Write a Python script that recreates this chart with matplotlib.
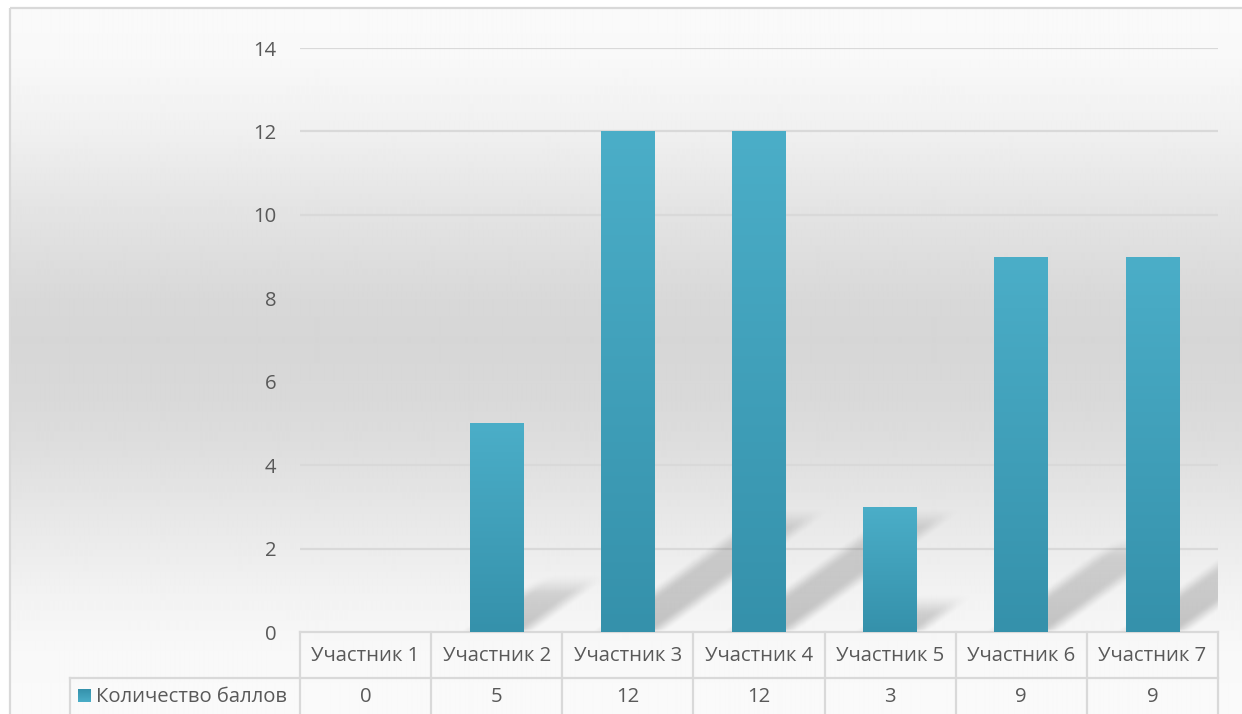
import numpy as np
import matplotlib
matplotlib.use('Agg')
import matplotlib.pyplot as plt
from matplotlib.colors import LinearSegmentedColormap, to_rgb
from matplotlib.patches import Rectangle

categories = ['Участник 1', 'Участник 2', 'Участник 3', 'Участник 4',
              'Участник 5', 'Участник 6', 'Участник 7']
values = [0, 5, 12, 12, 3, 9, 9]
series_name = 'Количество баллов'
y_ticks = [0, 2, 4, 6, 8, 10, 12, 14]

FONT = ['Open Sans', 'DejaVu Sans']
TXT = '#595959'
GRID = '#d9d9d9'
FS = 14.6

W, H = 1242, 714
fig = plt.figure(figsize=(W / 100, H / 100), dpi=100)
fig.patch.set_facecolor('white')

# ---- background panel with vertical gradient
bg = fig.add_axes([0, 0, 1, 1], zorder=0)
bg.set_xlim(0, W)
bg.set_ylim(H, 0)
bg.axis('off')
sy = [8, 60, 130, 200, 300, 340, 400, 450, 520, 600, 650, 714]
sv = [250, 248, 240, 229, 216, 214, 217, 222, 232, 243, 248, 250]
yy = np.arange(8, H)
col = np.interp(yy, sy, sv) / 255.0
img = np.repeat(col[:, None], 4, axis=1)
bg.imshow(img, cmap='gray', vmin=0, vmax=1, extent=(10, W + 2, H, 8),
          aspect='auto', origin='upper', interpolation='bilinear')
bg.add_patch(Rectangle((10, 8), W, H, fill=False, edgecolor='#d9d9d9', lw=1.6))
bg.set_xlim(0, W)
bg.set_ylim(H, 0)

# ---- main plot axes
L, R, T, B = 300, 1218, 48, 632
ax = fig.add_axes([L / W, 1 - B / H, (R - L) / W, (B - T) / H], zorder=2)
ax.patch.set_alpha(0)
xs = np.arange(len(categories))
XL = (-0.5, len(categories) - 0.5)
YL = (0, 14)

for t in y_ticks[1:]:
    ax.axhline(t, color=GRID, lw=1.6, zorder=1)

# ---- shadows (blurred parallelograms on the floor)
nx, ny = R - L, B - T
pxx = nx / (XL[1] - XL[0])
pxy = ny / (YL[1] - YL[0])
gx = XL[0] + (np.arange(nx) + 0.5) / pxx
gy = YL[1] - (np.arange(ny) + 0.5) / pxy
X, Y = np.meshgrid(gx, gy)
bw = 0.41
kx, ky = 0.100, 0.227
blur = 12.0
alpha = np.zeros_like(X)


def soft(d):
    s = np.clip((d + blur) / (2 * blur), 0, 1)
    return s * s * (3 - 2 * s)


for i, v in enumerate(values):
    if v <= 0:
        continue
    hs = ky * v
    t = Y / hs
    u = (X - (i - bw / 2) - kx * v * t) * pxx
    a = soft(u) * soft(bw * pxx - u) * soft((1 - t) * hs * pxy) * np.clip(Y * pxy / 3, 0, 1)
    a *= (1 - 0.4 * np.clip(t, 0, 1))
    alpha = np.maximum(alpha, a)
shadow = np.zeros((ny, nx, 4))
shadow[..., 3] = alpha * 0.21
ax.imshow(shadow, extent=(XL[0], XL[1], YL[0], YL[1]), aspect='auto',
          origin='upper', zorder=2, interpolation='bilinear')

# ---- bars with vertical gradient
teal = LinearSegmentedColormap.from_list('teal', ['#3591ab', '#4baec8'])
bars = ax.bar(xs, values, width=bw, color='none', edgecolor='none', zorder=3)
grad = np.linspace(1, 0, 256)[:, None]
for rect in bars:
    h = rect.get_height()
    if h <= 0:
        continue
    x0 = rect.get_x()
    im = ax.imshow(grad, cmap=teal, vmin=0, vmax=1, aspect='auto',
                   extent=(x0, x0 + rect.get_width(), 0, h), origin='upper',
                   zorder=3, interpolation='bilinear')
    im.set_clip_path(rect)

ax.set_xlim(*XL)
ax.set_ylim(*YL)
ax.set_yticks(y_ticks)
ax.set_yticklabels([str(t) for t in y_ticks], color=TXT, fontsize=FS, family=FONT)
ax.tick_params(axis='y', length=0, pad=17)
ax.set_xticks([])
for s in ax.spines.values():
    s.set_visible(False)

# ---- data table
fig.canvas.draw()
def px(xd):
    return ax.transData.transform((xd, 0))[0]

edges = [px(i - 0.5) for i in range(len(categories) + 1)]
row1, row2 = 632, 678
lk = dict(color=GRID, lw=1.6, zorder=3)
bg.plot([edges[0], edges[-1]], [row1, row1], **lk)
bg.plot([70, edges[-1]], [row2, row2], **lk)
bg.plot([70, 70], [row2, H + 2], **lk)
for e in edges:
    bg.plot([e, e], [row1, H + 2], **lk)
for i, (c, v) in enumerate(zip(categories, values)):
    cx = px(i)
    bg.text(cx, (row1 + row2) / 2 + 1, c, ha='center', va='center',
            color=TXT, fontsize=FS, family=FONT)
    bg.text(cx, (row2 + H) / 2 + 1, str(v), ha='center', va='center',
            color=TXT, fontsize=FS, family=FONT)
key = Rectangle((78, 689), 13, 13, edgecolor='none', facecolor='none')
bg.add_patch(key)
kim = bg.imshow(grad, cmap=teal, vmin=0, vmax=1, aspect='auto',
                extent=(78, 91, 702, 689), origin='lower', zorder=4)
kim.set_clip_path(key)
bg.text(96, (row2 + H) / 2 + 1, series_name, ha='left', va='center',
        color=TXT, fontsize=FS, family=FONT)
bg.set_xlim(0, W)
bg.set_ylim(H, 0)

fig.savefig('out.png', dpi=100)
